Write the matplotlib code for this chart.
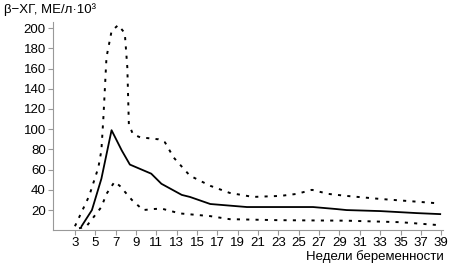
import matplotlib
matplotlib.use('Agg')
import matplotlib.pyplot as plt

plt.rcParams['font.family'] = ['Liberation Sans', 'DejaVu Sans']

# weeks / values
median_weeks = [3.65, 4.67, 5.6, 6.6, 7.6, 8.4, 10.5, 11.5, 13.5, 14.3, 16.3, 19.9, 23.0, 26.4, 28.7, 29.7, 33.0, 36.6, 38.9]
median_vals = [4, 20, 51, 99, 79, 65, 56, 46, 35, 33, 26, 23, 23, 23, 21, 20, 19, 17, 16]

upper_weeks = [3.0, 4.4, 5.3, 5.6, 5.8, 6.1, 6.6, 7.25, 7.9, 8.15, 8.3, 8.7, 9.4, 11.2, 11.85, 12.7, 14.3, 16.3, 18.2, 20.5, 23.2, 24.8, 26.3, 27.9, 29.7, 33.0, 37.0, 38.9]
upper_vals = [4, 34, 62, 79, 112, 171, 197, 203, 195, 161, 105, 95, 92, 90, 87, 72, 54, 44, 37, 33, 34, 36, 40, 36, 34, 31, 28, 26.5]

lower_weeks = [3.4, 4.1, 5.6, 6.1, 6.9, 7.4, 8.6, 9.7, 10.7, 11.5, 13.3, 16.3, 18.2, 23.0, 29.7, 35.0, 38.9]
lower_vals = [2, 3.5, 23, 36, 48, 44, 30, 20, 21, 21.5, 16.7, 14, 11, 10, 9.5, 8, 5]

x_ticks = list(range(3, 40, 2))
y_ticks = list(range(20, 201, 20))

AXIS_COLOR = '#999999'

fig = plt.figure(figsize=(4.5, 2.67), dpi=100)
ax = fig.add_axes([0.117, 0.1375, 0.868, 0.78])

dots = (0, (1.6, 3.2))
ax.plot(median_weeks, median_vals, color='black', lw=1.3)
ax.plot(upper_weeks, upper_vals, color='black', lw=1.4, linestyle=dots)
ax.plot(lower_weeks, lower_vals, color='black', lw=1.4, linestyle=dots)

ax.set_xlim(0.81, 39.2)
ax.set_ylim(0, 206)
ax.set_xticks(x_ticks)
ax.set_yticks(y_ticks)
ax.tick_params(labelsize=9.5, colors=AXIS_COLOR, labelcolor='black', length=3.5, width=0.8, pad=1.5)

for side in ['top', 'right']:
    ax.spines[side].set_visible(False)
for side in ['left', 'bottom']:
    ax.spines[side].set_color(AXIS_COLOR)
    ax.spines[side].set_linewidth(0.8)

fig.text(0.01, 0.965, 'β−ХГ, МЕ/л·10³', fontsize=9.5, va='center', ha='left')
fig.text(0.985, 0.04, 'Недели беременности', fontsize=9.5, va='center', ha='right')

fig.savefig('out.png', dpi=100)
